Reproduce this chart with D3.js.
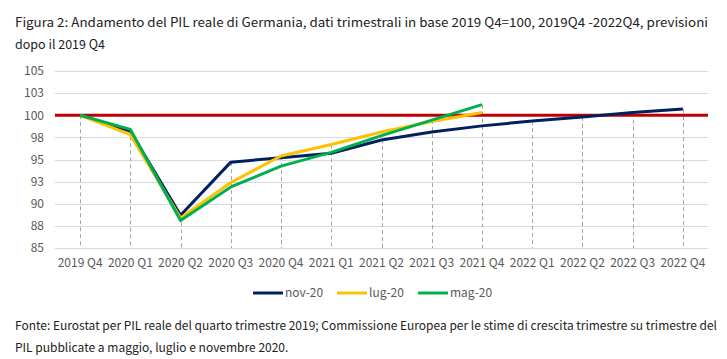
<!DOCTYPE html>
<html>
<head>
<meta charset="utf-8">
<script src="https://cdn.jsdelivr.net/npm/d3@7"></script>
<style>
  html, body { margin: 0; padding: 0; background: #fff; }
  svg { display: block; }
  text { font-family: "Noto Sans CJK JP", "Noto Sans", sans-serif; }
</style>
</head>
<body>
<svg id="chart" width="727" height="359"></svg>
<script>
const categories = ["2019 Q4","2020 Q1","2020 Q2","2020 Q3","2020 Q4","2021 Q1","2021 Q2","2021 Q3","2021 Q4","2022 Q1","2022 Q2","2022 Q3","2022 Q4"];
const nov20 = [100, 98.2, 88.7, 94.7, 95.2, 95.7, 97.2, 98.1, 98.8, 99.35, 99.8, 100.3, 100.7];
const lug20 = [100, 97.8, 88.4, 92.4, 95.4, 96.7, 98.1, 99.3, 100.3];
const mag20 = [100, 98.4, 88.1, 91.9, 94.25, 95.8, 97.7, 99.45, 101.2];
const yTicks = [85, 87.5, 90, 92.5, 95, 97.5, 100, 102.5, 105];
const seriesNames = ["nov-20", "lug-20", "mag-20"];
const seriesColors = ["#002060", "#FFC000", "#00B050"];
const referenceValue = 100;
const titleLines = [
  "Figura 2: Andamento del PIL reale di Germania, dati trimestrali in base 2019 Q4=100, 2019Q4 -2022Q4, previsioni",
  "dopo il 2019 Q4"
];
const noteLines = [
  "Fonte: Eurostat per PIL reale del quarto trimestre 2019; Commissione Europea per le stime di crescita trimestre su trimestre del",
  "PIL pubblicate a maggio, luglio e novembre 2020."
];

const svg = d3.select("#chart");
const plot = {left: 55, right: 708, top: 71, bottom: 248};

const x = d3.scaleBand().domain(categories).range([plot.left, plot.right]);
const cx = c => x(c) + x.bandwidth() / 2;
const y = d3.scaleLinear().domain([85, 105]).range([plot.bottom, plot.top]);

// title
svg.selectAll("text.title").data(titleLines).join("text")
  .attr("class", "title")
  .attr("x", 15).attr("y", (d, i) => 27 + i * 22)
  .attr("font-size", 12.5).attr("fill", "#222")
  .text(d => d)
  .each(function(d, i) { if (i === 0) d3.select(this).attr("textLength", 693).attr("lengthAdjust", "spacingAndGlyphs"); });

// gridlines
svg.append("g").selectAll("line").data(yTicks).join("line")
  .attr("x1", plot.left).attr("x2", plot.right)
  .attr("y1", d => Math.round(y(d)) + 0.5).attr("y2", d => Math.round(y(d)) + 0.5)
  .attr("stroke", "#d9d9d9").attr("stroke-width", 1);

// y axis labels
const yAxis = d3.axisLeft(y).tickValues(yTicks).tickSize(0).tickPadding(0)
  .tickFormat(d => d3.format(".0f")(Math.round(d + 1e-9)));
const gy = svg.append("g").attr("transform", `translate(44,0)`).call(yAxis);
gy.select(".domain").remove();
gy.selectAll("text").attr("font-size", 12).attr("fill", "#595959")
  .style("font-family", "\"Noto Sans CJK JP\", sans-serif");

// drop lines (from highest series value to axis)
const all = [nov20, lug20, mag20];
const maxVals = categories.map((c, i) => d3.max(all, s => s[i]));
svg.append("g").selectAll("line").data(categories).join("line")
  .attr("x1", d => Math.round(cx(d)) + 0.5).attr("x2", d => Math.round(cx(d)) + 0.5)
  .attr("y1", (d, i) => y(maxVals[i])).attr("y2", plot.bottom)
  .attr("stroke", "#a6a6a6").attr("stroke-width", 1).attr("stroke-dasharray", "4,3");

// reference line at 100
svg.append("line")
  .attr("x1", plot.left).attr("x2", plot.right)
  .attr("y1", y(referenceValue)).attr("y2", y(referenceValue))
  .attr("stroke", "#C00000").attr("stroke-width", 3);

// series lines
const line = d3.line().defined(d => d[1] != null).x(d => cx(d[0])).y(d => y(d[1]));
all.forEach((s, k) => {
  const pts = s.map((v, i) => [categories[i], v]);
  svg.append("path").datum(pts)
    .attr("d", line).attr("fill", "none")
    .attr("stroke", seriesColors[k]).attr("stroke-width", 3)
    .attr("stroke-linejoin", "round").attr("stroke-linecap", "butt");
});
// redraw order: green on top as in reference (mag drawn last already)

// x axis labels
const xAxis = d3.axisBottom(x).tickSize(0).tickPadding(0);
const gx = svg.append("g").attr("transform", `translate(0,${plot.bottom + 10})`).call(xAxis);
gx.select(".domain").remove();
gx.selectAll("text").attr("font-size", 12).attr("fill", "#595959")
  .style("font-family", "\"Noto Sans CJK JP\", sans-serif")
  .attr("dy", "0.71em");

// legend
const legendX = [253, 337, 418];
const lg = svg.append("g");
seriesNames.forEach((n, k) => {
  lg.append("line").attr("x1", legendX[k]).attr("x2", legendX[k] + 30)
    .attr("y1", 293).attr("y2", 293)
    .attr("stroke", seriesColors[k]).attr("stroke-width", 3);
  lg.append("text").attr("x", legendX[k] + 32).attr("y", 297)
    .attr("font-size", 12).attr("fill", "#595959").text(n);
});

// footnote
svg.selectAll("text.note").data(noteLines).join("text")
  .attr("class", "note")
  .attr("x", 15).attr("y", (d, i) => 330 + i * 22)
  .attr("font-size", 12).attr("fill", "#222")
  .text(d => d)
  .each(function(d, i) { if (i === 0) d3.select(this).attr("textLength", 702).attr("lengthAdjust", "spacingAndGlyphs"); });
</script>
</body>
</html>
